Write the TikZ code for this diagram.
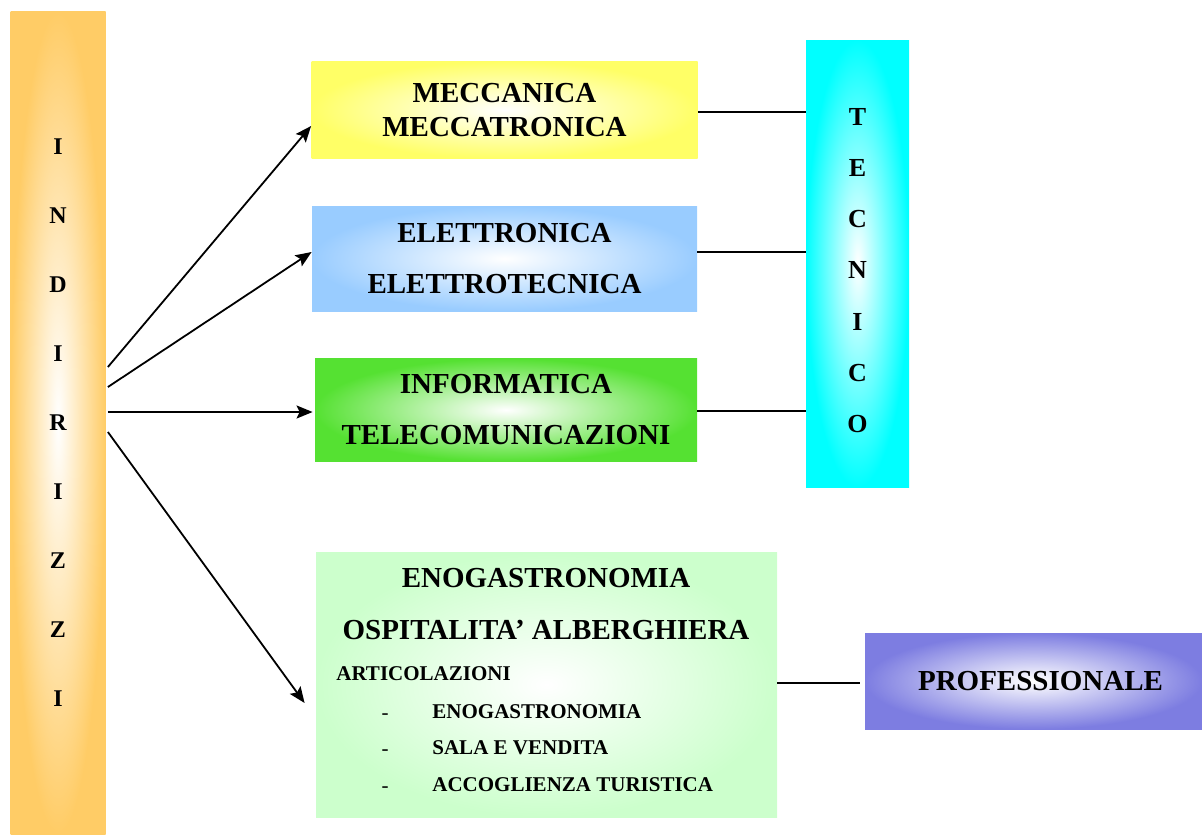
\documentclass[tikz,border=0pt]{standalone}
\usepackage{fontspec}
\setmainfont{Liberation Serif}
\usetikzlibrary{arrows.meta}
\definecolor{arancio}{RGB}{255,204,102}
\definecolor{giallo}{RGB}{255,255,102}
\definecolor{azzurro}{RGB}{153,204,255}
\definecolor{verde}{RGB}{85,225,50}
\definecolor{verdino}{RGB}{204,255,204}
\definecolor{ciano}{RGB}{0,255,255}
\definecolor{viola}{RGB}{125,125,225}
\begin{document}
\begin{tikzpicture}[x=0.5pt,y=-0.5pt,
    box/.style={inner sep=0pt,shading=radial,inner color=white,align=center,
      font=\bfseries\fontsize{14.5}{17}\selectfont},
    voce/.style={inner sep=0pt,font=\bfseries\fontsize{10.5}{12}\selectfont},
    freccia/.style={-{Stealth[length=8pt,width=6.5pt,inset=1.5pt]},line width=0.9pt},
    linea/.style={line width=0.9pt}]
    \useasboundingbox (0,0) rectangle (1202,835);
    \node[box,outer color=arancio,minimum width=47.5pt,minimum height=411.5pt,
      font=\bfseries\fontsize{12}{34.5}\selectfont] (indirizzi) at (58,422.5) {I\\N\\D\\I\\R\\I\\Z\\Z\\I};
    \node[box,outer color=giallo,minimum width=193pt,minimum height=48.5pt] (meccanica) at (504.5,110) {MECCANICA\\MECCATRONICA};
    \node[box,outer color=azzurro,minimum width=192.5pt,minimum height=52.5pt] (elettronica) at (504.5,258.5) {ELETTRONICA\\[8.5pt]ELETTROTECNICA};
    \node[box,outer color=verde,minimum width=191pt,minimum height=51.5pt] (informatica) at (506,410) {INFORMATICA\\[8.5pt]TELECOMUNICAZIONI};
    \node[box,outer color=verdino,minimum width=230.5pt,minimum height=132.5pt] (enogastro) at (546.5,684.5) {};
    \node[box,outer color=ciano,minimum width=51.5pt,minimum height=223.5pt] (tecnico) at (857.5,263.5) {};
    \node[box,outer color=viola,minimum width=168.5pt,minimum height=48pt] (professionale) at (1033.5,681) {\hspace{7pt}PROFESSIONALE};

    \node[voce,align=center,font=\bfseries\fontsize{13}{25.6}\selectfont] (lettere) at (857.5,270.5) {T\\E\\C\\N\\I\\C\\O};
    \node[voce,font=\bfseries\fontsize{14.5}{17}\selectfont] (titolo1) at (546,578) {ENOGASTRONOMIA};
    \node[voce,font=\bfseries\fontsize{14.5}{17}\selectfont] (titolo2) at (546,630) {OSPITALITA’ ALBERGHIERA};
    \node[voce,anchor=west] (articolazioni) at (336,674) {ARTICOLAZIONI};
    \foreach \y/\t in {712/ENOGASTRONOMIA,748/SALA E VENDITA,785/ACCOGLIENZA TURISTICA} {
      \node[voce,anchor=base,font=\fontsize{10.5}{12}\selectfont] (trattino\y) at (385,\y+7) {-};
      \node[voce,anchor=west] (voce\y) at (432,\y) {\t};
    }

    \draw[freccia] ([xshift=1pt,yshift=27.75pt]indirizzi.east) -- ([yshift=-8pt]meccanica.west);
    \draw[freccia] ([xshift=1pt,yshift=17.75pt]indirizzi.east) -- ([yshift=3.25pt]elettronica.west);
    \draw[freccia] ([xshift=1pt,yshift=5.25pt]indirizzi.east) -- ([xshift=-1pt,yshift=5.25pt]indirizzi.east -| informatica.west);
    \draw[freccia] ([xshift=1pt,yshift=-4.75pt]indirizzi.east) -- ([xshift=-5.5pt,yshift=-9.25pt]enogastro.west);

    \draw[linea] ([yshift=-1pt]meccanica.east) -- ([yshift=-1pt]meccanica.east -| tecnico.west);
    \draw[linea] ([yshift=3.25pt]elettronica.east) -- ([yshift=3.25pt]elettronica.east -| tecnico.west);
    \draw[linea] ([yshift=-0.5pt]informatica.east) -- ([yshift=-0.5pt]informatica.east -| tecnico.west);
    \draw[linea] ([yshift=0.75pt]enogastro.east) -- ([xshift=-2.5pt,yshift=0.75pt]enogastro.east -| professionale.west);
\end{tikzpicture}
\end{document}
